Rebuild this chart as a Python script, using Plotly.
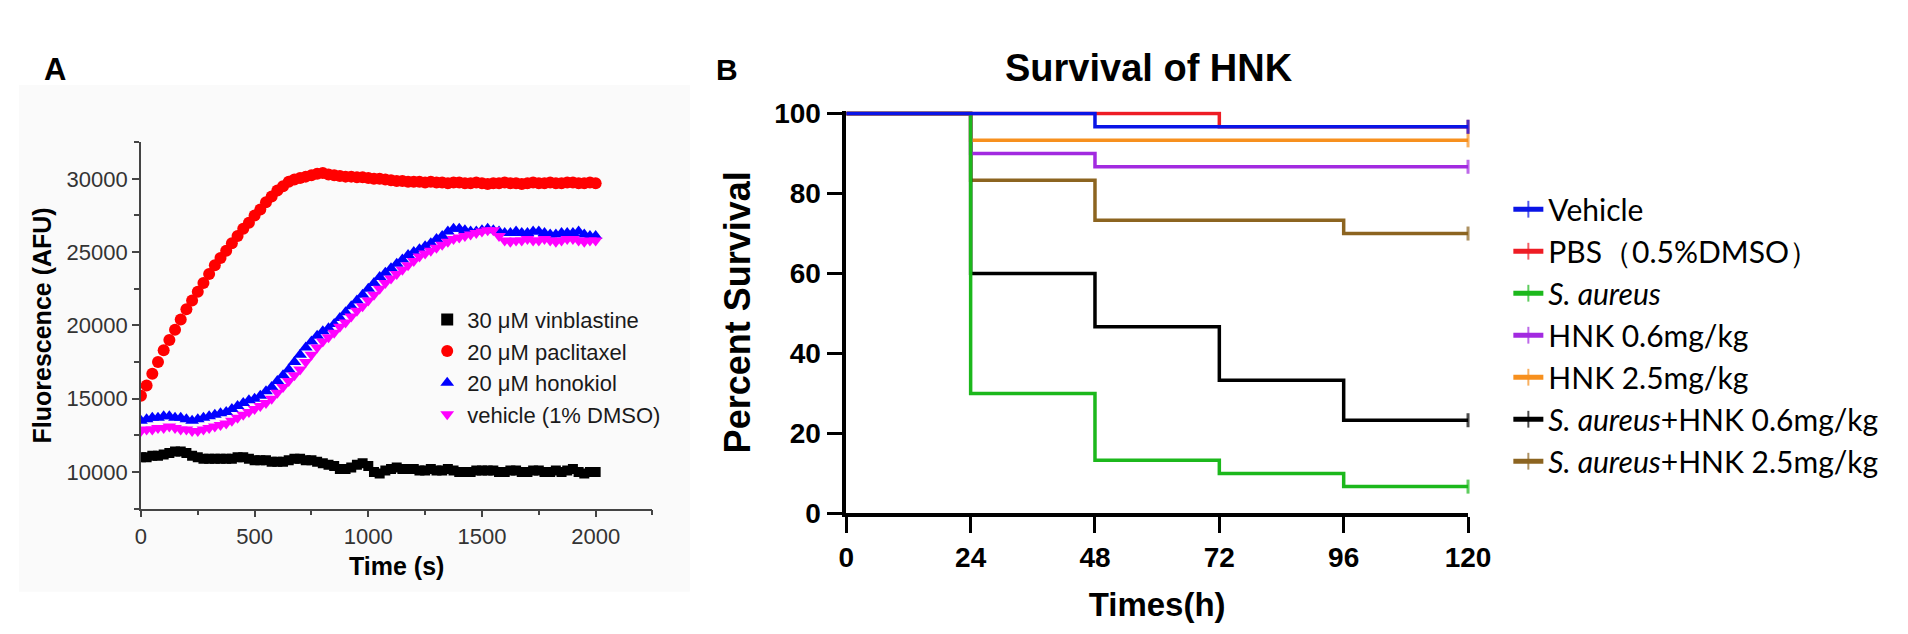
import plotly.graph_objects as go

# ---------- panel A: tubulin polymerization ----------
time_s = list(range(0, 2001, 25))

vinblastine = [11000, 11000, 11100, 11100, 11200, 11300, 11400, 11400, 11300, 11100,
               11000, 10900, 10900, 10900, 10900, 10900, 10900, 11000, 11000, 10900,
               10800, 10800, 10800, 10700, 10700, 10700, 10800, 10900, 10900, 10800,
               10800, 10700, 10600, 10500, 10400, 10200, 10200, 10300, 10500, 10600,
               10400, 10000, 9900, 10100, 10200, 10300, 10200, 10200, 10200, 10100,
               10100, 10200, 10100, 10100, 10200, 10100, 10000, 10000, 10000, 10100,
               10100, 10100, 10100, 10000, 10000, 10100, 10100, 10000, 10000, 10100,
               10100, 10000, 10000, 10100, 10000, 10100, 10200, 10000, 9900, 10000,
               10000]

paclitaxel = [15200, 15900, 16700, 17500, 18300, 19000, 19700, 20400, 21100, 21700,
              22300, 22900, 23500, 24100, 24600, 25100, 25600, 26100, 26600, 27000,
              27500, 27900, 28400, 28800, 29200, 29500, 29800, 29950, 30050, 30150,
              30250, 30350, 30400, 30300, 30250, 30200, 30150, 30150, 30100, 30100,
              30050, 30000, 30000, 29950, 29900, 29850, 29850, 29800, 29800, 29800,
              29750, 29800, 29750, 29750, 29700, 29750, 29750, 29700, 29700, 29750,
              29700, 29650, 29700, 29700, 29750, 29700, 29700, 29650, 29700, 29750,
              29700, 29700, 29750, 29700, 29700, 29750, 29750, 29700, 29700, 29750,
              29700]

honokiol = [13500, 13600, 13700, 13700, 13800, 13800, 13700, 13700, 13600, 13500,
            13600, 13700, 13800, 13900, 14000, 14100, 14300, 14500, 14700, 14900,
            15000, 15200, 15500, 15800, 16200, 16600, 17000, 17500, 18000, 18500,
            18900, 19300, 19600, 19800, 20100, 20500, 20900, 21300, 21700, 22100,
            22500, 22900, 23300, 23600, 23900, 24200, 24500, 24800, 25000, 25200,
            25400, 25600, 25900, 26100, 26400, 26600, 26600, 26500, 26400, 26400,
            26500, 26600, 26500, 26400, 26300, 26300, 26400, 26300, 26300, 26400,
            26400, 26300, 26200, 26200, 26300, 26300, 26300, 26400, 26200, 26100,
            26100]

vehicle_dmso = [12800, 12900, 12900, 13000, 13000, 13100, 13000, 12900, 12900, 12800,
                12800, 12900, 13000, 13100, 13200, 13300, 13500, 13700, 13900, 14100,
                14300, 14500, 14700, 15000, 15400, 15800, 16200, 16600, 17000, 17500,
                18000, 18500, 18900, 19200, 19500, 19900, 20200, 20600, 21000, 21300,
                21700, 22100, 22500, 22900, 23200, 23500, 23800, 24100, 24400, 24700,
                24900, 25100, 25300, 25500, 25700, 25900, 26000, 26100, 26200, 26300,
                26400, 26500, 26500, 26100, 25800, 25700, 25800, 25800, 25900, 25800,
                25800, 25900, 25800, 25700, 25800, 25900, 25900, 25800, 25700, 25800,
                25800]

a_names = ["30 \u03bcM vinblastine", "20 \u03bcM paclitaxel",
           "20 \u03bcM honokiol", "vehicle (1% DMSO)"]
a_series = [vinblastine, paclitaxel, honokiol, vehicle_dmso]
a_colors = ["#000000", "#ff0000", "#0000ff", "#ff00ff"]
a_symbols = ["square", "circle", "triangle-up", "triangle-down"]
a_sizes = [10, 12, 12, 12]

# ---------- panel B: Kaplan-Meier survival ----------
km_names = ["Vehicle", "PBS\uff080.5%DMSO\uff09", "<i>S. aureus</i>", "HNK 0.6mg/kg",
            "HNK 2.5mg/kg", "<i>S. aureus</i>+HNK 0.6mg/kg", "<i>S. aureus</i>+HNK 2.5mg/kg"]
km_times = [
    [0, 48, 120],
    [0, 72, 120],
    [0, 24, 48, 72, 96, 120],
    [0, 24, 48, 120],
    [0, 24, 120],
    [0, 24, 48, 72, 96, 120],
    [0, 24, 48, 96, 120],
]
km_survival = [
    [100, 96.7, 96.7],
    [100, 96.7, 96.7],
    [100, 30, 13.3, 10, 6.7, 6.7],
    [100, 90, 86.7, 86.7],
    [100, 93.3, 93.3],
    [100, 60, 46.7, 33.3, 23.3, 23.3],
    [100, 83.3, 73.3, 70, 70],
]
km_colors = ["#0a14e6", "#ee1c24", "#1cb81c", "#a22ae0", "#f7901e", "#000000", "#8c6420"]
b_ticks = [0, 24, 48, 72, 96, 120]

W, H = 1908, 634

fig = go.Figure()

for name, ys, col, sym, sz in zip(a_names, a_series, a_colors, a_symbols, a_sizes):
    fig.add_trace(go.Scatter(x=time_s, y=ys, mode="markers", name=name,
                             marker=dict(color=col, symbol=sym, size=sz, line=dict(width=0)),
                             xaxis="x", yaxis="y", legend="legend2"))

# draw in reverse so Vehicle ends on top; legend reversed back
for i in reversed(range(len(km_names))):
    sizes = [0] * (len(km_times[i]) - 1) + [10]
    fig.add_trace(go.Scatter(x=km_times[i], y=km_survival[i], mode="lines+markers",
                             name=km_names[i], line=dict(color=km_colors[i], width=3.5, shape="hv"),
                             marker=dict(symbol="line-ns", size=sizes,
                                         line=dict(color=km_colors[i], width=3)),
                             cliponaxis=False, xaxis="x2", yaxis="y2", legend="legend"))

axA = dict(showline=True, linecolor="#444", linewidth=1.5, ticks="outside", ticklen=7,
           tickwidth=1.5, tickcolor="#444", showgrid=False, zeroline=False, tickformat="d",
           tickfont=dict(family="Liberation Sans, Arial", size=22, color="#333"))

fig.update_layout(
    width=W, height=H,
    margin=dict(l=0, r=0, t=0, b=0),
    paper_bgcolor="white", plot_bgcolor="rgba(0,0,0,0)",
    showlegend=True,
    xaxis=dict(axA, domain=[127 / W, 647 / W], range=[0, 2250], dtick=500, anchor="y",
               minor=dict(ticks="outside", dtick=250, ticklen=5, tickcolor="#444", tickwidth=1.5),
               title=dict(text="<b>Time (s)</b>", standoff=10,
                          font=dict(family="Liberation Sans, Arial", size=25, color="#000"))),
    yaxis=dict(axA, domain=[1 - 511 / H, 1 - 127 / H], range=[7500, 32500], dtick=5000, anchor="x",
               minor=dict(ticks="outside", dtick=2500, ticklen=5, tickcolor="#444", tickwidth=1.5),
               title=dict(text="<b>Fluorescence (AFU)</b>", standoff=8,
                          font=dict(family="Liberation Sans, Arial", size=25, color="#000"))),
    xaxis2=dict(domain=[844 / W, 1476 / W], range=[0, 120], tickvals=b_ticks, anchor="y2",
                showline=True, linecolor="#000", linewidth=3.5, ticks="outside", ticklen=16,
                tickwidth=3, tickcolor="#000", showgrid=False, zeroline=False,
                tickfont=dict(family="Liberation Sans, Arial", size=28, color="#000", weight="bold"),
                title=dict(text="<b>Times(h)</b>", standoff=22,
                           font=dict(family="Liberation Sans, Arial", size=33, color="#000"))),
    yaxis2=dict(domain=[1 - 516 / H, 1 - 94.5 / H], range=[0, 100.6], dtick=20, anchor="x2",
                showline=True, linecolor="#000", linewidth=3.5, ticks="outside", ticklen=16,
                tickwidth=3, tickcolor="#000", showgrid=False, zeroline=False,
                tickfont=dict(family="Liberation Sans, Arial", size=28, color="#000", weight="bold"),
                title=dict(text="<b>Percent Survival</b>", standoff=14,
                           font=dict(family="Liberation Sans, Arial", size=36, color="#000"))),
    legend=dict(x=1517 / W, y=1 - 170 / H, xanchor="left", yanchor="top",
                traceorder="reversed", itemsizing="constant", bgcolor="rgba(0,0,0,0)",
                font=dict(family="Lato", size=30, color="#000")),
    legend2=dict(x=418 / W, y=1 - 291 / H, xanchor="left", yanchor="top",
                 bgcolor="rgba(0,0,0,0)", itemsizing="constant",
                 font=dict(family="Liberation Sans, Arial", size=22, color="#1a1a1a")),
    shapes=[dict(type="rect", xref="paper", yref="paper", x0=3 / W, x1=685 / W,
                 y0=1 - 598 / H, y1=1 - 67 / H, fillcolor="#fafafa", line=dict(width=0),
                 layer="below")],
    annotations=[
        dict(text="<b>A</b>", x=26 / W, y=1 - 30 / H, xref="paper", yref="paper",
             showarrow=False, font=dict(family="Liberation Sans, Arial", size=31, color="#000")),
        dict(text="<b>B</b>", x=723 / W, y=1 - 31 / H, xref="paper", yref="paper",
             showarrow=False, font=dict(family="Liberation Sans, Arial", size=30, color="#000")),
        dict(text="<b>Survival of HNK</b>", x=1152 / W, y=1 - 25 / H, xref="paper", yref="paper",
             showarrow=False, font=dict(family="Liberation Sans, Arial", size=38, color="#000")),
    ],
)

fig.write_html("out.html")
